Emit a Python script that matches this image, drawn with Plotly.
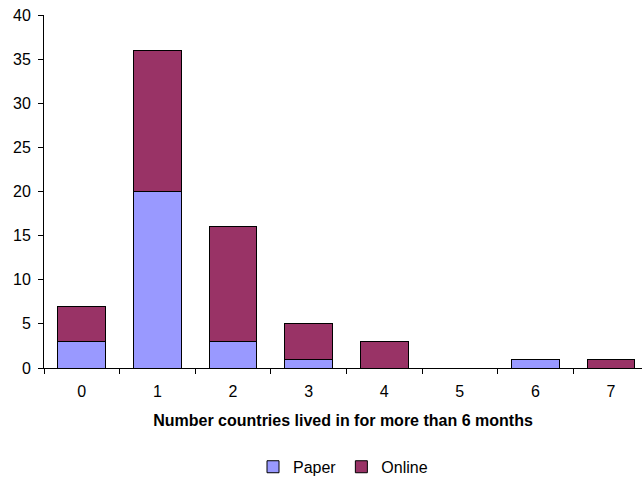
import plotly.graph_objects as go

categories = ["0", "1", "2", "3", "4", "5", "6", "7"]
paper = [3, 20, 3, 1, 0, 0, 1, 0]
online = [4, 16, 13, 4, 3, 0, 0, 1]

font_family = "Liberation Sans, Arial, sans-serif"

fig = go.Figure()
fig.add_trace(go.Bar(
    x=categories, y=paper, name="Paper",
    marker=dict(color="#9999FF", line=dict(color="#000000", width=1)),
))
fig.add_trace(go.Bar(
    x=categories, y=online, name="Online",
    marker=dict(color="#993366", line=dict(color="#000000", width=1)),
))

fig.update_layout(
    barmode="stack",
    bargap=0.37,
    width=643, height=481,
    margin=dict(l=44, r=1, t=15, b=113, autoexpand=False),
    paper_bgcolor="white",
    plot_bgcolor="white",
    font=dict(family=font_family, size=16, color="#000000"),
    showlegend=True,
    legend=dict(
        orientation="h",
        x=0.50, xanchor="center",
        y=-0.28, yanchor="middle",
        font=dict(size=16),
        itemwidth=30,
        traceorder="normal",
    ),
    xaxis=dict(
        type="category",
        # the plot area ends a little before the last category boundary
        range=[-0.5, 7.41],
        showline=True, linecolor="#000000", linewidth=1,
        ticks="outside", ticklen=5, tickcolor="#000000",
        tickson="boundaries",
        ticklabelstandoff=9,
        showgrid=False,
        tickfont=dict(size=16),
        title=dict(
            text="<b>Number countries lived in for more than 6 months</b>",
            font=dict(size=16),
            standoff=15,
        ),
    ),
    yaxis=dict(
        range=[0, 40], dtick=5,
        showline=True, linecolor="#000000", linewidth=1,
        ticks="outside", ticklen=5, tickcolor="#000000",
        ticklabelstandoff=4,
        showgrid=False, zeroline=False,
        tickfont=dict(size=16),
    ),
)

fig.write_html("out.html")
